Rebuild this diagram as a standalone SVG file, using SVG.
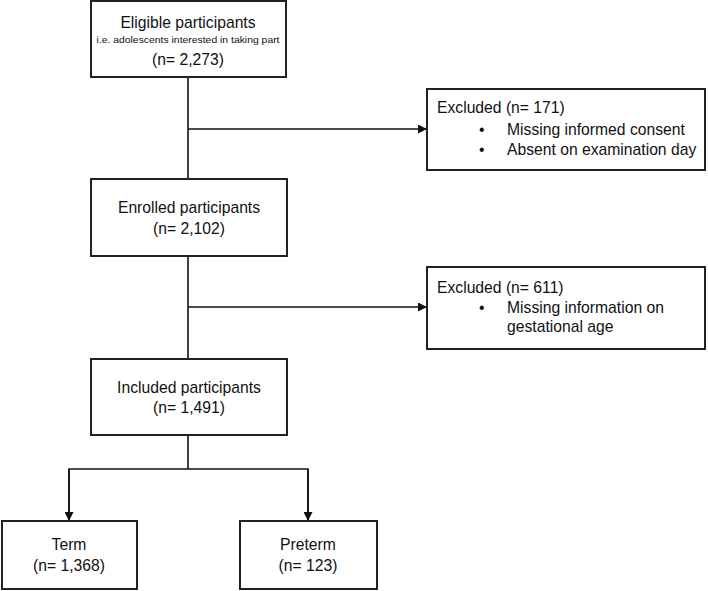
<svg xmlns="http://www.w3.org/2000/svg" width="708" height="591" viewBox="0 0 708 591">
<style>
.box{fill:#fff;stroke:#222;stroke-width:2}
.t{font-family:"Liberation Sans",Arial,sans-serif;font-size:15.7px;fill:#111}
.c{text-anchor:middle}
.s{font-size:9.8px}
.ln{fill:none;stroke:#111;stroke-width:1.6}
</style>
<defs>
<marker id="ah" viewBox="0 0 10 10" refX="10" refY="5" markerWidth="9" markerHeight="9" markerUnits="userSpaceOnUse" orient="auto">
<path d="M0,0 L10,5 L0,10 z" fill="#111"/>
</marker>
</defs>
<rect width="708" height="591" fill="#fff"/>
<g id="connectors">
<line class="ln" x1="188" y1="77" x2="188" y2="179"/>
<line class="ln" x1="188" y1="129" x2="427" y2="129" marker-end="url(#ah)"/>
<line class="ln" x1="188" y1="256" x2="188" y2="359"/>
<line class="ln" x1="188" y1="307" x2="427" y2="307" marker-end="url(#ah)"/>
<line class="ln" x1="188" y1="435" x2="188" y2="469"/>
<polyline class="ln" points="69,521 69,469 308,469 308,521"/>
<line class="ln" x1="69" y1="469" x2="69" y2="521" marker-end="url(#ah)"/>
<line class="ln" x1="308" y1="469" x2="308" y2="521" marker-end="url(#ah)"/>
</g>
<g id="eligible">
<rect class="box" x="91" y="1" width="195" height="76"/>
<text class="t c" x="188" y="28">Eligible participants</text>
<text class="t c s" x="188" y="43" textLength="183" lengthAdjust="spacingAndGlyphs">i.e. adolescents interested in taking part</text>
<text class="t c" x="188" y="65">(n= 2,273)</text>
</g>
<g id="excluded1">
<rect class="box" x="427" y="89" width="278" height="81"/>
<text class="t" x="437" y="113">Excluded (n= 171)</text>
<text class="t" x="479" y="135">•</text>
<text class="t" x="507" y="135">Missing informed consent</text>
<text class="t" x="479" y="155">•</text>
<text class="t" x="507" y="155">Absent on examination day</text>
</g>
<g id="enrolled">
<rect class="box" x="91" y="179" width="196" height="77"/>
<text class="t c" x="189" y="213">Enrolled participants</text>
<text class="t c" x="189" y="234">(n= 2,102)</text>
</g>
<g id="excluded2">
<rect class="box" x="427" y="267" width="278" height="82"/>
<text class="t" x="437" y="293">Excluded (n= 611)</text>
<text class="t" x="479" y="313">•</text>
<text class="t" x="507" y="313">Missing information on</text>
<text class="t" x="507" y="332">gestational age</text>
</g>
<g id="included">
<rect class="box" x="91" y="359" width="196" height="76"/>
<text class="t c" x="189" y="393">Included participants</text>
<text class="t c" x="189" y="413">(n= 1,491)</text>
</g>
<g id="term">
<rect class="box" x="2" y="521" width="135" height="68"/>
<text class="t c" x="69" y="550">Term</text>
<text class="t c" x="69" y="571">(n= 1,368)</text>
</g>
<g id="preterm">
<rect class="box" x="240" y="521" width="137" height="68"/>
<text class="t c" x="308" y="550">Preterm</text>
<text class="t c" x="308" y="571">(n= 123)</text>
</g>
</svg>
